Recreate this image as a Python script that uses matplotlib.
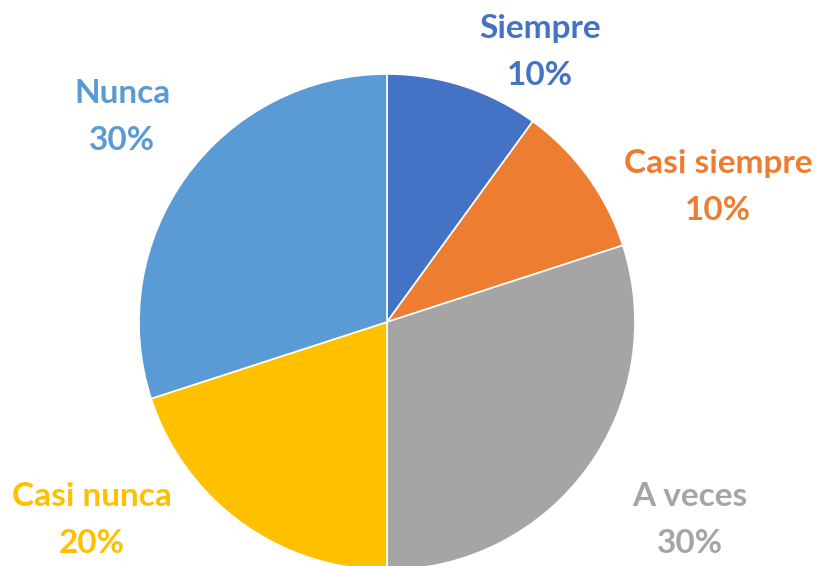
import matplotlib
matplotlib.use("Agg")
import matplotlib.pyplot as plt

labels = ["Siempre", "Casi siempre", "A veces", "Casi nunca", "Nunca"]
values = [10, 10, 30, 20, 30]
colors = ["#4472C4", "#ED7D31", "#A5A5A5", "#FFC000", "#5B9BD5"]

# label anchor points (pixels from top-left of the figure)
label_pos = [(540, 52), (718, 187), (690, 520), (92, 520), (122, 117)]

W, H = 821, 566
fig = plt.figure(figsize=(W / 100, H / 100), dpi=100)
ax = fig.add_axes([0, 0, 1, 1])

ax.pie(values, colors=colors, startangle=90, counterclock=False,
       center=(387, H - 322), radius=248,
       wedgeprops=dict(edgecolor="white", linewidth=1.2), frame=True)
ax.set_xlim(0, W)
ax.set_ylim(0, H)
ax.set_aspect("equal")
ax.axis("off")

total = sum(values)
for lab, v, c, (x, y) in zip(labels, values, colors, label_pos):
    ax.text(x, H - y, f"{lab}\n{round(100 * v / total)}%", color=c,
            ha="center", va="center", fontsize=24, fontweight="bold",
            family="Lato", linespacing=1.72)

fig.savefig("out.png", dpi=100)
